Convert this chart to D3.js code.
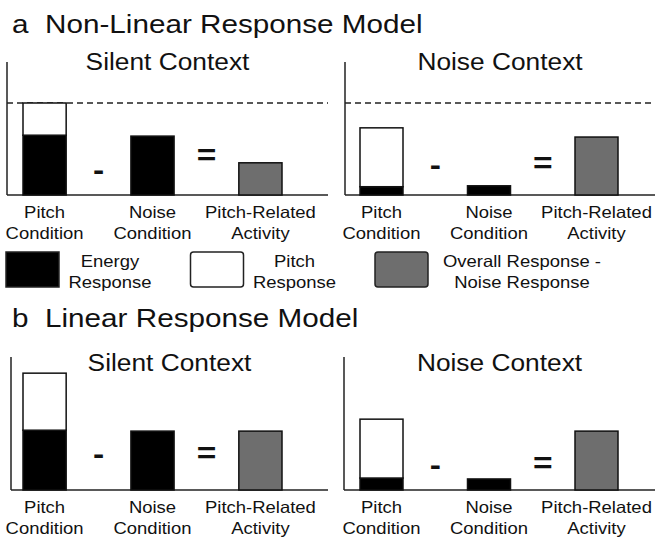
<!DOCTYPE html>
<html>
<head>
<meta charset="utf-8">
<script src="https://cdn.jsdelivr.net/npm/d3@7"></script>
<style>
  body { margin: 0; background: #fff; }
  text { font-family: "Liberation Sans", Arial, sans-serif; fill: #111; }
</style>
</head>
<body>
<svg></svg>
<script>
// values in arbitrary response units (dashed line = max response)
var categories = ['Pitch Condition', 'Noise Condition', 'Pitch-Related Activity'];
var catLines = [['Pitch', 'Condition'], ['Noise', 'Condition'], ['Pitch-Related', 'Activity']];
var contexts = ['Silent Context', 'Noise Context'];
var models = ['Non-Linear Response Model', 'Linear Response Model'];
var modelLetters = ['a', 'b'];
// panels: a-silent, a-noise, b-silent, b-noise
var energyPitchCond = [6.5, 0.9, 6.5, 1.3];
var pitchPitchCond = [3.5, 6.4, 6.2, 6.4];
var energyNoiseCond = [6.4, 1.0, 6.4, 1.2];
var pitchRelated = [3.5, 6.3, 6.4, 6.4];
var maxResponse = 10;
var legendLabels = [['Energy', 'Response'], ['Pitch', 'Response'], ['Overall Response -', 'Noise Response']];

var width = 655;
var height = 537;
var sx = 1.12;
var svg = d3.select('svg')
    .attr('width', width)
    .attr('height', height);

function label(g, x, y, str, size, anchor, weight) {
    return g.append('text')
        .attr('transform', `translate(${x},${y}) scale(${sx},1)`)
        .attr('text-anchor', anchor || 'middle')
        .attr('font-size', size)
        .attr('font-weight', weight || 'normal')
        .text(str);
}

var rows = [{ top: 0, base: 195, axisX: [7, 345] }, { top: 294, base: 490, axisX: [11, 344] }];
var cols = [{ x1: 328, band: [23, 282] }, { x1: 655, band: [360, 618] }];
var opY = [[[25, 40], [30, 32]], [[36, 37], [25, 27]]];

rows.forEach(function (row, r) {
    label(svg, 12, row.top + 33, modelLetters[r], 26.5, 'start');
    label(svg, 45, row.top + 33, models[r], 26.5, 'start');
    var yScale = d3.scaleLinear()
        .domain([0, maxResponse])
        .range([row.base, row.base - 92]);
    cols.forEach(function (col, c) {
        var p = r * 2 + c;
        var g = svg.append('g');
        var ax = row.axisX[c];
        var xScale = d3.scaleBand()
            .domain(categories)
            .range(col.band)
            .paddingInner(0.6);
        var bw = xScale.bandwidth();
        label(g, (ax + col.x1) / 2, row.top + 70 + (r ? 7 : 0), contexts[c], 23.5);
        // axes
        g.append('line').attr('x1', ax).attr('x2', ax)
            .attr('y1', row.base - 133).attr('y2', row.base)
            .attr('stroke', '#222').attr('stroke-width', 1.5);
        g.append('line').attr('x1', ax).attr('x2', col.x1)
            .attr('y1', row.base).attr('y2', row.base)
            .attr('stroke', '#222').attr('stroke-width', 1.5);
        if (r === 0) {
            g.append('line').attr('x1', ax).attr('x2', col.x1)
                .attr('y1', yScale(maxResponse)).attr('y2', yScale(maxResponse))
                .attr('stroke', '#222').attr('stroke-width', 1.3)
                .attr('stroke-dasharray', '6,4');
        }
        var segs = [
            { cat: categories[0], y0: 0, y1: energyPitchCond[p], fill: '#000' },
            { cat: categories[0], y0: energyPitchCond[p], y1: energyPitchCond[p] + pitchPitchCond[p], fill: '#fff' },
            { cat: categories[1], y0: 0, y1: energyNoiseCond[p], fill: '#000' },
            { cat: categories[2], y0: 0, y1: pitchRelated[p], fill: '#6e6e6e' }
        ];
        g.selectAll('rect.bar').data(segs).enter().append('rect')
            .attr('class', 'bar')
            .attr('x', d => xScale(d.cat))
            .attr('width', bw)
            .attr('y', d => yScale(d.y1))
            .attr('height', d => yScale(d.y0) - yScale(d.y1))
            .attr('fill', d => d.fill)
            .attr('stroke', '#111')
            .attr('stroke-width', 1.5);
        // operators
        var c0 = xScale(categories[0]) + bw / 2;
        var c1 = xScale(categories[1]) + bw / 2;
        var c2 = xScale(categories[2]) + bw / 2;
        label(g, (c0 + c1) / 2, row.base - opY[r][c][0] + 10, '-', 30, 'middle', 'bold');
        label(g, (c1 + c2) / 2, row.base - opY[r][c][1] + 10, '=', 30, 'middle', 'bold');
        // category labels
        categories.forEach(function (cat, i) {
            var cx = xScale(cat) + bw / 2;
            label(g, cx, row.base + 23, catLines[i][0], 16.5);
            label(g, cx, row.base + 44, catLines[i][1], 16.5);
        });
    });
});

// legend
var legendFill = ['#000', '#fff', '#6e6e6e'];
var legendX = d3.scalePoint().domain(d3.range(3)).range([6, 375]);
var lg = svg.append('g');
legendLabels.forEach(function (l, i) {
    var x = legendX(i);
    lg.append('rect')
        .attr('x', x).attr('y', 252)
        .attr('width', 53).attr('height', 35)
        .attr('rx', i ? 3 : 0)
        .attr('fill', legendFill[i])
        .attr('stroke', '#222').attr('stroke-width', 1.5);
    var tx = i === 2 ? x + 147 : x + 104;
    label(lg, tx, 267, l[0], 16.5);
    label(lg, tx, 288, l[1], 16.5);
});
</script>
</body>
</html>
